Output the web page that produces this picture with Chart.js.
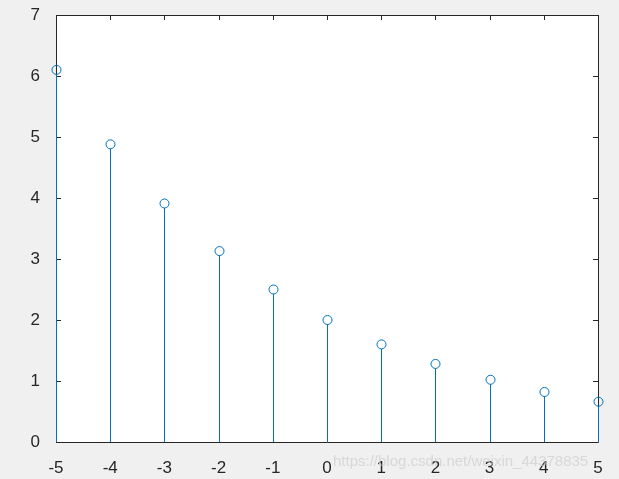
<!DOCTYPE html>
<html>
<head>
<meta charset="utf-8">
<script src="https://cdn.jsdelivr.net/npm/chart.js@4"></script>
<style>
  html, body { margin: 0; padding: 0; background: #f0f0f0; }
  #wrap { width: 619px; height: 479px; }
</style>
</head>
<body>
<div id="wrap"><canvas id="stem"></canvas></div>
<script>
// stem data
const nValues = [-5, -4, -3, -2, -1, 0, 1, 2, 3, 4, 5];
const yValues = [6.10, 4.88, 3.91, 3.13, 2.50, 2.00, 1.60, 1.28, 1.02, 0.82, 0.66];
const xTicks = [-5, -4, -3, -2, -1, 0, 1, 2, 3, 4, 5];
const yTicks = [0, 1, 2, 3, 4, 5, 6, 7];

const stemColor = '#0072BD';
const axisColor = '#262626';
const tickFont = { family: '"Liberation Sans", Arial, sans-serif', size: 17 };

const points = nValues.map((n, i) => ({ x: n, y: yValues[i] }));

// white axes box, inward ticks on all four sides, stems and circles on top
const axesBox = {
    id: 'axesBox',
    beforeDraw(chart) {
        const { ctx, chartArea: a } = chart;
        ctx.save();
        ctx.fillStyle = '#ffffff';
        ctx.fillRect(a.left, a.top, a.right - a.left, a.bottom - a.top);
        ctx.restore();
    },
    afterDraw(chart) {
        const { ctx, chartArea: a, scales } = chart;
        const len = 5;
        ctx.save();
        ctx.strokeStyle = axisColor;
        ctx.lineWidth = 1;
        ctx.beginPath();
        ctx.rect(Math.round(a.left) + 0.5, Math.round(a.top) + 0.5,
                 Math.round(a.right - a.left), Math.round(a.bottom - a.top));
        xTicks.forEach(v => {
            const px = Math.round(scales.x.getPixelForValue(v)) + 0.5;
            ctx.moveTo(px, a.bottom); ctx.lineTo(px, a.bottom - len);
            ctx.moveTo(px, a.top); ctx.lineTo(px, a.top + len);
        });
        yTicks.forEach(v => {
            const py = Math.round(scales.y.getPixelForValue(v)) + 0.5;
            ctx.moveTo(a.left, py); ctx.lineTo(a.left + len, py);
            ctx.moveTo(a.right, py); ctx.lineTo(a.right - len, py);
        });
        ctx.stroke();

        // crisp 1px stems at the bar positions the library worked out
        const meta = chart.getDatasetMeta(1);
        ctx.strokeStyle = stemColor;
        ctx.beginPath();
        meta.data.forEach(bar => {
            const px = Math.round(bar.x) + 0.5;
            ctx.moveTo(px, Math.round(bar.base));
            ctx.lineTo(px, bar.y + 4.5);
        });
        ctx.stroke();

        // circles
        const pm = chart.getDatasetMeta(0);
        pm.data.forEach(p => {
            ctx.beginPath();
            ctx.arc(Math.round(p.x) + 0.5, p.y, 4.5, 0, Math.PI * 2);
            ctx.stroke();
        });

        // faint watermark along the bottom
        ctx.font = '15px "Liberation Sans", Arial, sans-serif';
        ctx.fillStyle = 'rgba(205,205,205,0.7)';
        ctx.textAlign = 'left';
        ctx.textBaseline = 'middle';
        ctx.fillText('https://blog.csdn.net/weixin_44378835', 333, 462);
        ctx.restore();
    }
};

new Chart(document.getElementById('stem'), {
    type: 'bar',
    data: {
        datasets: [{
            type: 'scatter',
            data: points,
            showLine: false,
            clip: false,
            pointStyle: 'circle',
            pointRadius: 4.5,
            pointBorderWidth: 0,
            pointBorderColor: 'rgba(0,0,0,0)',
            pointBackgroundColor: 'rgba(0,0,0,0)',
            order: 0
        }, {
            type: 'bar',
            data: points,
            clip: false,
            backgroundColor: 'rgba(0,0,0,0)',
            barThickness: 1,
            order: 1
        }]
    },
    options: {
        responsive: true,
        maintainAspectRatio: false,
        animation: false,
        layout: { padding: { left: 0, right: 21, top: 15, bottom: 0 } },
        plugins: {
            legend: { display: false },
            tooltip: { enabled: false }
        },
        scales: {
            x: {
                type: 'linear',
                min: -5,
                max: 5,
                offset: false,
                grid: { display: false },
                border: { display: false },
                afterBuildTicks: s => { s.ticks = xTicks.map(v => ({ value: v })); },
                afterFit: s => { s.height = 37; s.paddingLeft = 0; s.paddingRight = 0; },
                ticks: {
                    color: axisColor,
                    padding: 8,
                    maxRotation: 0,
                    font: tickFont
                }
            },
            y: {
                min: 0,
                max: 7,
                grid: { display: false },
                border: { display: false },
                afterBuildTicks: s => { s.ticks = yTicks.map(v => ({ value: v })); },
                afterFit: s => { s.width = 56; s.paddingTop = 0; s.paddingBottom = 0; },
                ticks: {
                    color: axisColor,
                    padding: 8,
                    font: tickFont
                }
            }
        }
    },
    plugins: [axesBox]
});
</script>
</body>
</html>
